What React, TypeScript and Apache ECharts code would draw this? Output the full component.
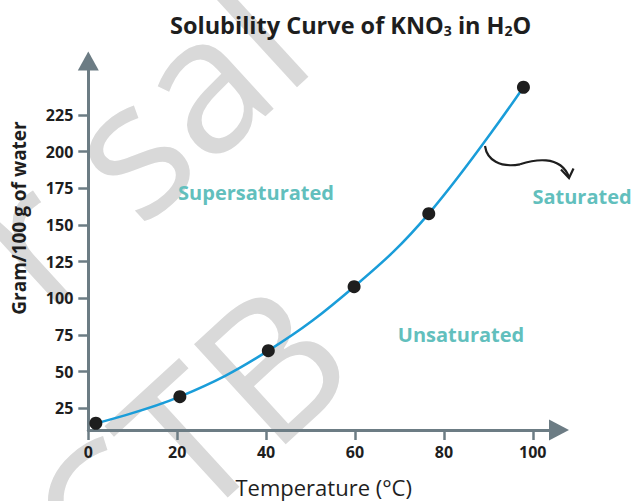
import React, { useEffect, useRef } from "react";
import * as echarts from "echarts";

// Data
const temperatureC = [1.7, 20.6, 40.5, 59.8, 76.6, 97.9];
const solubility = [14.8, 32.9, 64.3, 107.9, 157.7, 243.9];
const xTickValues = [0, 20, 40, 60, 80, 100];
const yTickValues = [25, 50, 75, 100, 125, 150, 175, 200, 225];

// Watermark fragments seen behind the chart
const watermarkTexts = ["r sal", "CTB"];
const watermarkAnchors = [
  [134, 137],
  [185, 437],
];

const AXIS = "#6c7c84";
const TEXT = "#1e1e1e";
const TEAL = "#62bfbd";
const LINE = "#1a9dd9";
const WM = "#d9d9d9";
const FONT = "'Open Sans', 'Noto Sans', sans-serif";

export default function App() {
  const ref = useRef<HTMLDivElement>(null);

  useEffect(() => {
    if (!ref.current) return;
    const chart = echarts.init(ref.current, null, { renderer: "svg" });
    const deg = Math.PI / 180;

    const watermark = watermarkTexts.map((t, i) => ({
      type: "text",
      x: watermarkAnchors[i][0],
      y: watermarkAnchors[i][1],
      rotation: 42.5 * deg,
      z: -10,
      silent: true,
      style: { text: t, fill: WM, fontFamily: FONT, fontSize: 190, fontWeight: 500, align: "center", verticalAlign: "middle" },
    }));

    chart.setOption({
      animation: false,
      backgroundColor: "#ffffff",
      title: {
        text: "{t|Solubility Curve of KNO}{s|3}{t| in H}{s|2}{t|O}",
        left: 170,
        top: 9,
        padding: 0,
        textStyle: {
          rich: {
            t: { fontFamily: FONT, fontWeight: "bold", fontSize: 23.5, color: TEXT, lineHeight: 28, verticalAlign: "bottom" },
            s: { fontFamily: FONT, fontWeight: "bold", fontSize: 14, color: TEXT, lineHeight: 9, verticalAlign: "bottom" },
          },
        },
      },
      grid: { left: 88.3, right: 76, top: 61, bottom: 71, containLabel: false, outerBoundsMode: "none" },
      xAxis: {
        type: "value",
        min: 0,
        max: 105.9,
        axisLine: { show: true, onZero: false, symbol: ["none", "triangle"], symbolSize: [21, 20], lineStyle: { color: AXIS, width: 3 } },
        axisTick: { show: true, customValues: xTickValues, length: 10, lineStyle: { color: AXIS, width: 2.5 } },
        axisLabel: { customValues: xTickValues, margin: 14, color: TEXT, fontFamily: FONT, fontWeight: "bold", fontSize: 16 },
        splitLine: { show: false },
      },
      yAxis: {
        type: "value",
        min: 10.2,
        max: 261.8,
        axisLine: { show: true, onZero: false, symbol: ["none", "triangle"], symbolSize: [21, 19], lineStyle: { color: AXIS, width: 3 } },
        axisTick: { show: true, customValues: yTickValues, length: 10, lineStyle: { color: AXIS, width: 2.5 } },
        axisLabel: { customValues: yTickValues, margin: 15, color: TEXT, fontFamily: FONT, fontWeight: "bold", fontSize: 16 },
        splitLine: { show: false },
      },
      series: [
        {
          type: "line",
          data: temperatureC.map((t, i) => [t, solubility[i]]),
          smooth: 0.4,
          symbol: "circle",
          symbolSize: 13,
          itemStyle: { color: TEXT },
          lineStyle: { color: LINE, width: 2.5 },
          emphasis: { disabled: true },
          z: 3,
        },
      ],
      graphic: {
        elements: [
          ...watermark,
          { type: "text", x: 19, y: 218, rotation: 90 * deg, style: { text: "Gram/100 g of water", fill: TEXT, fontFamily: FONT, fontSize: 19, fontWeight: "bold", align: "center", verticalAlign: "middle" } },
          { type: "text", x: 323.7, y: 486.5, style: { text: "Temperature (°C)", fill: TEXT, fontFamily: FONT, fontSize: 22, fontWeight: "normal", align: "center", verticalAlign: "middle" } },
          { type: "text", x: 256, y: 192, style: { text: "Supersaturated", fill: TEAL, fontFamily: FONT, fontSize: 20, fontWeight: "bold", align: "center", verticalAlign: "middle" } },
          { type: "text", x: 461, y: 334.5, style: { text: "Unsaturated", fill: TEAL, fontFamily: FONT, fontSize: 20, fontWeight: "bold", align: "center", verticalAlign: "middle" } },
          { type: "text", x: 582, y: 196.7, style: { text: "Saturated", fill: TEAL, fontFamily: FONT, fontSize: 20, fontWeight: "bold", align: "center", verticalAlign: "middle" } },
          { type: "bezierCurve", shape: { x1: 485, y1: 146, cpx1: 487, cpy1: 160, cpx2: 500, cpy2: 168, x2: 520, y2: 164.3 }, style: { stroke: TEXT, lineWidth: 2.2, fill: null } },
          { type: "bezierCurve", shape: { x1: 520, y1: 164.3, cpx1: 533, cpy1: 160, cpx2: 560, cpy2: 154, x2: 569, y2: 177 }, style: { stroke: TEXT, lineWidth: 2.2, fill: null } },
          { type: "polyline", shape: { points: [[561, 169.5], [569, 178], [573.5, 168.5]] }, style: { stroke: TEXT, lineWidth: 2.2, fill: null } },
        ],
      },
    });

    return () => chart.dispose();
  }, []);

  return <div ref={ref} style={{ position: "absolute", left: 0, top: 0, width: 635, height: 501 }} />;
}
